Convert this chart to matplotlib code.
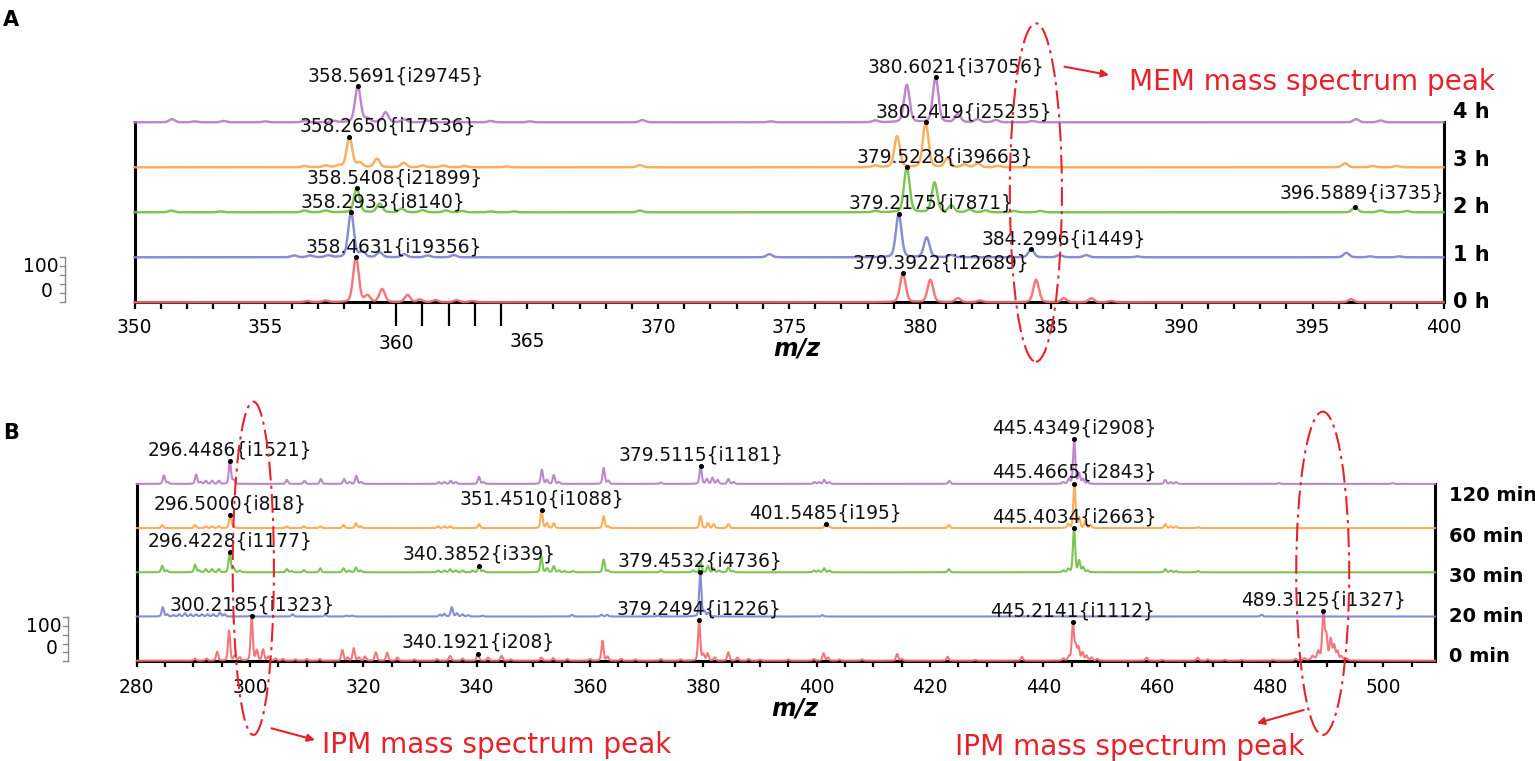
import numpy as np
import matplotlib
matplotlib.use("Agg")
import matplotlib.pyplot as plt
from matplotlib.patches import Ellipse
from matplotlib.ticker import FixedLocator, FixedFormatter
import matplotlib.transforms as mtransforms

plt.rcParams['font.family'] = ['DejaVu Sans']

# ======================= DATA =======================
# Panel A : MEM, m/z 350-400, traces 0 h ... 4 h  (peak m/z, relative intensity %)
a_names = ["0 h", "1 h", "2 h", "3 h", "4 h"]
a_peaks_0h = [(356.6, 3), (357.3, 4), (358.46, 100), (358.9, 14), (359.46, 29), (360.43, 16),
              (360.9, 6), (361.5, 5), (362.3, 5), (362.9, 3), (379.35, 64), (380.40, 50),
              (381.45, 9), (382.3, 4), (384.44, 50), (385.5, 9), (386.55, 9), (387.3, 3), (396.47, 7)]
a_peaks_1h = [(356.1, 4), (356.7, 4), (357.4, 4), (358.27, 100), (358.7, 12), (359.36, 11),
              (360.3, 7), (361.2, 4), (362.2, 5), (374.25, 7), (379.19, 96), (380.26, 44),
              (381.2, 5), (384.25, 18), (385.33, 5), (386.35, 5), (388.3, 2), (396.29, 10),
              (397.2, 2), (398.3, 2)]
a_peaks_2h = [(351.4, 4), (353.3, 2), (356.5, 4), (357.3, 4), (358.49, 53), (359.36, 19),
              (360.2, 8), (361.0, 5), (361.9, 4), (362.5, 3), (363.6, 2), (364.5, 2), (369.3, 4),
              (378.3, 3), (379.50, 100), (380.56, 66), (381.2, 15), (381.9, 6), (382.5, 4),
              (383.6, 3), (384.6, 3), (396.62, 11), (397.6, 4), (398.6, 3)]
a_peaks_3h = [(356.5, 3), (357.3, 4), (357.8, 4), (358.21, 67), (358.6, 10), (359.26, 19),
              (360.28, 10), (361.0, 4), (361.8, 4), (362.6, 3), (364.2, 2), (369.3, 5), (378.3, 4),
              (379.13, 69), (380.22, 100), (381.05, 20), (381.7, 6), (382.2, 9), (383.0, 3),
              (396.24, 9), (397.3, 3), (398.2, 3)]
a_peaks_4h = [(351.43, 7), (352.3, 2), (353.4, 3), (355.0, 2), (356.5, 3), (357.6, 3), (358.53, 80),
              (358.9, 8), (359.59, 22), (360.3, 6), (361.2, 4), (362.3, 3), (363.6, 3), (365.1, 2),
              (369.4, 5), (374.3, 2), (378.3, 4), (379.50, 83), (380.60, 100), (381.45, 18),
              (382.2, 7), (382.9, 5), (384.3, 3), (396.66, 7), (397.6, 4)]
a_labels_0h = [("358.4631{i19356}", 358.46), ("379.3922{i12689}", 379.35)]
a_labels_1h = [("358.2933{i8140}", 358.27), ("379.2175{i7871}", 379.19), ("384.2996{i1449}", 384.25)]
a_labels_2h = [("358.5408{i21899}", 358.49), ("379.5228{i39663}", 379.50), ("396.5889{i3735}", 396.62)]
a_labels_3h = [("358.2650{i17536}", 358.21), ("380.2419{i25235}", 380.22)]
a_labels_4h = [("358.5691{i29745}", 358.53), ("380.6021{i37056}", 380.60)]
a_xticks_labeled = [350, 355, 360, 365, 370, 375, 380, 385, 390, 395, 400]

# Panel B : IPM, m/z 280-509, traces 0 min ... 120 min
b_names = ["0 min", "20 min", "30 min", "60 min", "120 min"]
b_peaks_0 = [(290.3, 5), (292.3, 5), (294.2, 20), (296.3, 68), (297.3, 11), (298.2, 7), (300.3, 100),
             (301.2, 23), (302.3, 25), (303.2, 9), (304.5, 5), (305.8, 4), (308.0, 3), (310.0, 4),
             (312.3, 4), (316.3, 24), (317.2, 7), (318.3, 28), (319.2, 7), (320.3, 9), (322.2, 19),
             (324.2, 18), (326.0, 7), (329.0, 3), (333.0, 4), (335.3, 11), (337.5, 5), (340.2, 16),
             (342.0, 7), (344.4, 11), (346.0, 3), (351.4, 7), (353.5, 6), (356.0, 4), (360.0, 4),
             (362.2, 45), (363.1, 9), (365.5, 4), (368.0, 3), (372.5, 4), (376.0, 3), (379.25, 91),
             (380.0, 14), (380.75, 16), (382.0, 7), (384.4, 19), (386.0, 7), (388.0, 4), (390.0, 3),
             (395.0, 3), (399.5, 4), (401.2, 17), (402.0, 7), (404.0, 3), (408.0, 3), (414.2, 15),
             (415.0, 4), (423.1, 9), (428.0, 2), (436.2, 9), (443.5, 5), (444.5, 9), (445.2, 85),
             (445.7, 32), (446.2, 29), (446.9, 18), (447.6, 11), (448.5, 7), (449.5, 4), (458.2, 7),
             (461.0, 2), (467.2, 7), (469.0, 3), (472.0, 2), (475.0, 2), (480.5, 2), (484.5, 4),
             (486.0, 5), (487.5, 7), (488.5, 15), (489.4, 100), (489.9, 50), (490.7, 42), (491.3, 30),
             (491.9, 18), (492.6, 8), (493.5, 4), (489.6, 8, 1.6)]
b_peaks_20 = [(284.6, 21), (285.4, 5), (286.5, 3), (287.5, 5), (288.5, 7), (289.5, 5), (290.5, 5),
              (291.5, 5), (292.5, 5), (293.5, 5), (294.7, 9), (295.5, 5), (300.0, 2), (307.5, 5),
              (313.3, 3), (317.0, 2), (318.0, 2), (333.5, 4), (334.3, 6), (335.6, 21), (336.5, 7),
              (337.5, 5), (338.5, 3), (341.0, 2), (356.8, 4), (362.0, 4), (363.0, 4), (372.0, 2),
              (379.45, 100), (380.2, 11), (380.9, 8), (401.0, 3), (478.5, 4)]
b_peaks_30 = [(284.5, 15), (285.3, 4), (290.3, 17), (291.0, 4), (292.2, 7), (293.3, 7), (294.5, 7),
              (296.4, 45), (297.1, 9), (298.2, 4), (306.5, 7), (307.3, 3), (309.5, 5), (312.4, 9),
              (316.5, 9), (317.5, 4), (318.7, 11), (319.5, 4), (333.2, 4), (334.3, 4), (335.3, 7),
              (336.3, 4), (337.5, 4), (339.3, 4), (340.4, 15), (341.2, 4), (351.4, 36), (352.4, 9),
              (353.6, 14), (354.5, 4), (355.5, 3), (357.0, 3), (362.4, 29), (363.2, 4), (372.5, 4),
              (378.2, 4), (379.5, 24), (380.8, 14), (381.8, 9), (382.8, 4), (384.4, 11), (385.2, 3),
              (399.5, 4), (400.3, 4), (401.3, 9), (402.2, 4), (423.3, 7), (443.5, 4), (444.4, 7),
              (445.40, 100), (446.3, 26), (447.0, 11), (447.8, 4), (461.5, 7), (462.5, 4),
              (463.4, 3), (467.3, 3)]
b_peaks_60 = [(284.5, 7), (290.3, 7), (292.2, 4), (293.3, 4), (294.5, 4), (296.5, 29), (297.1, 4),
              (306.5, 4), (309.5, 4), (312.4, 4), (316.5, 7), (318.7, 11), (319.5, 4), (333.2, 4),
              (334.3, 4), (335.3, 4), (340.4, 9), (351.45, 40), (352.4, 11), (353.6, 11), (362.4, 27),
              (363.2, 4), (379.5, 27), (380.8, 11), (381.8, 9), (384.4, 9), (401.55, 9), (402.2, 4),
              (423.3, 7), (444.4, 9), (445.47, 100), (446.3, 23), (447.4, 16), (448.3, 7), (461.5, 9),
              (462.5, 4), (463.4, 4), (467.3, 2)]
b_peaks_120 = [(284.8, 19), (285.5, 4), (290.5, 21), (291.3, 4), (292.2, 7), (293.3, 7), (294.5, 7),
               (296.45, 52), (297.1, 9), (306.5, 9), (309.6, 7), (312.5, 11), (316.6, 11), (317.6, 4),
               (318.75, 18), (319.6, 4), (333.3, 4), (334.3, 4), (335.4, 7), (336.3, 4), (340.4, 16),
               (341.2, 4), (351.5, 32), (352.4, 9), (353.6, 20), (354.5, 4), (362.4, 36), (363.2, 7),
               (372.5, 3), (379.51, 41), (380.6, 11), (381.6, 14), (382.5, 9), (384.4, 11),
               (385.3, 4), (399.6, 4), (400.4, 4), (401.3, 9), (402.2, 4), (423.4, 7), (443.5, 4),
               (444.5, 11), (445.43, 100), (446.3, 23), (447.0, 11), (447.8, 4), (461.5, 9),
               (462.5, 4), (463.4, 4), (481.6, 2), (501.6, 2)]
b_labels_0 = [("300.2185{i1323}", 300.3), ("340.1921{i208}", 340.2), ("379.2494{i1226}", 379.25),
              ("445.2141{i1112}", 445.2), ("489.3125{i1327}", 489.4)]
b_labels_20 = [("379.4532{i4736}", 379.45)]
b_labels_30 = [("296.4228{i1177}", 296.4), ("340.3852{i339}", 340.4), ("445.4034{i2663}", 445.40)]
b_labels_60 = [("296.5000{i818}", 296.5), ("351.4510{i1088}", 351.45), ("401.5485{i195}", 401.55),
               ("445.4665{i2843}", 445.47)]
b_labels_120 = [("296.4486{i1521}", 296.45), ("379.5115{i1181}", 379.51), ("445.4349{i2908}", 445.43)]
b_xticks_labeled = [280, 300, 320, 340, 360, 380, 400, 420, 440, 460, 480, 500]

# ======================= STYLE / LAYOUT =======================
W, H = 1535, 761
colors = ["#F36C73", "#7F81D0", "#71C044", "#FAA74E", "#B97CC9"]
RED = "#E5232A"
fs_lab = 13.4

fig = plt.figure(figsize=(W / 100, H / 100), dpi=100)


def px_axes(left, right, top, bottom):
    return fig.add_axes([left / W, 1 - bottom / H, (right - left) / W, (bottom - top) / H])


def spectrum(x, peaks, sigma):
    y = np.zeros_like(x)
    for p in peaks:
        m, h = p[0], p[1]
        s = p[2] if len(p) > 2 else sigma
        d = (x - m) / s
        y += h * (0.75 * np.exp(-0.5 * d * d) + 0.25 / (1 + (d / 1.3) ** 2))
    return y


def draw_panel(ax, xlim, peaks_list, labels_list, sigma, lw, lab_mode, lab_dx, lab_dy):
    x = np.arange(xlim[0], xlim[1] + 1e-9, 0.01)
    for k, (peaks, labels) in enumerate(zip(peaks_list, labels_list)):
        base = 100 * k
        y = spectrum(x, peaks, sigma)
        ax.plot(x, base + y, color=colors[k], lw=lw, alpha=0.92, clip_on=False,
                zorder=3, solid_joinstyle='round')
        for j, (txt, mz) in enumerate(labels):
            top = base + np.interp(mz, x, y)
            ax.plot([mz], [top], 'o', ms=2.6, color='k', zorder=5, clip_on=False)
            dx, dy = lab_dx.get(txt, (lab_mode[1], lab_dy))
            ax.annotate(txt, xy=(mz, top), xytext=(dx, dy), textcoords='offset points',
                        ha=lab_mode[0], va='center', fontsize=fs_lab, color='#111111', zorder=6)
    ax.set_xlim(*xlim)
    ax.set_yticks([])
    ax.spines['top'].set_visible(False)
    for s in ('left', 'right'):
        ax.spines[s].set_bounds(0, 400)
        ax.spines[s].set_linewidth(2.2)
    ax.spines['bottom'].set_linewidth(2.2)
    ax.patch.set_alpha(0)


# ---------- Panel A ----------
A_SP = 45.0  # px per trace spacing (=100 %)
axA = px_axes(134.5, 1443.5, 20, 302.3)
axA.set_ylim(0, (302.3 - 20) / A_SP * 100)
draw_panel(axA, (350, 400), [a_peaks_0h, a_peaks_1h, a_peaks_2h, a_peaks_3h, a_peaks_4h],
           [a_labels_0h, a_labels_1h, a_labels_2h, a_labels_3h, a_labels_4h],
           0.105, 1.75, ('left', -36), {"380.6021{i37056}": (-49, 7.6), "396.5889{i3735}": (-54, 10)}, 7.6)

major = [i for i in range(350, 401) if not (360 <= i <= 364)]
minor = [360, 361, 362, 363, 364]
axA.xaxis.set_major_locator(FixedLocator(major))
axA.xaxis.set_major_formatter(FixedFormatter(
    [str(i) if (i in a_xticks_labeled and i != 365) else '' for i in major]))
axA.xaxis.set_minor_locator(FixedLocator(minor))
axA.xaxis.set_minor_formatter(FixedFormatter(['360' if i == 360 else '' for i in minor]))
axA.tick_params(axis='x', which='major', length=5, width=1.6, pad=6, labelsize=fs_lab)
axA.tick_params(axis='x', which='minor', length=17, width=1.6, pad=6, labelsize=fs_lab)
axA.annotate('365', xy=(365, 0), xycoords=('data', 'axes fraction'),
             xytext=(0, -(341.7 - 302.3) * 0.72), textcoords='offset points',
             ha='center', va='center', fontsize=fs_lab)
axA.set_xlabel('m/z', fontsize=17, fontweight='bold', fontstyle='italic')
axA.xaxis.set_label_coords(0.506, -(348.3 - 302.3) / (302.3 - 20))
axA.xaxis.label.set_va('center')
tA = mtransforms.blended_transform_factory(axA.transAxes, axA.transData)
for k, name in enumerate(a_names):
    axA.annotate(name, xy=(1, k * 47.5 / A_SP * 100), xycoords=tA, xytext=(6.8, 0),
                 textcoords='offset points', ha='left', va='center', fontsize=15,
                 fontweight='bold', annotation_clip=False)
axA.add_patch(Ellipse((384.43, (302.3 - 192.5) / A_SP * 100), width=1.99,
                      height=338.4 / A_SP * 100, fill=False, ec=RED, lw=1.5,
                      ls=(0, (9, 2.5, 1.5, 2.5)), clip_on=False, zorder=7))

# ---------- Panel B ----------
B_SP = 44.2
axB = px_axes(136.7, 1435, 400, 660.7)
axB.set_ylim(0, (660.7 - 400) / B_SP * 100)
draw_panel(axB, (280, 509.1), [b_peaks_0, b_peaks_20, b_peaks_30, b_peaks_60, b_peaks_120],
           [b_labels_0, b_labels_20, b_labels_30, b_labels_60, b_labels_120],
           0.19, 1.5, ('center', 0), {}, 8.0)
axB.set_xticks(np.arange(280, 509, 5))
axB.set_xticklabels([str(v) if v in b_xticks_labeled else '' for v in np.arange(280, 509, 5)])
axB.tick_params(axis='x', which='major', length=4.3, width=1.6, pad=8.2, labelsize=fs_lab)
axB.set_xlabel('m/z', fontsize=17, fontweight='bold', fontstyle='italic')
axB.xaxis.set_label_coords(0.507, -(708.3 - 660.7) / (660.7 - 400))
axB.xaxis.label.set_va('center')
tB = mtransforms.blended_transform_factory(axB.transAxes, axB.transData)
for k, name in enumerate(b_names):
    axB.annotate(name, xy=(1, (4 + k * 40.2) / B_SP * 100), xycoords=tB, xytext=(10, 0),
                 textcoords='offset points', ha='left', va='center', fontsize=14,
                 fontweight='bold', annotation_clip=False)
for cx, cy, w, h in [(300.58, (660.7 - 568.3), 7.27, 333.3), (489.29, (660.7 - 573.3), 9.35, 323.3)]:
    axB.add_patch(Ellipse((cx, cy / B_SP * 100), width=w, height=h / B_SP * 100, fill=False,
                          ec=RED, lw=1.5, ls=(0, (9, 2.5, 1.5, 2.5)), clip_on=False, zorder=7))

# ---------- Overlay (annotations in pixel space) ----------
ov = fig.add_axes([0, 0, 1, 1])
ov.set_xlim(0, W)
ov.set_ylim(H, 0)
ov.axis('off')
ov.patch.set_alpha(0)

ov.text(11, 20, 'A', fontsize=15, fontweight='bold', ha='center', va='center')
ov.text(11, 433, 'B', fontsize=15, fontweight='bold', ha='center', va='center')

arrow_kw = dict(arrowstyle='-|>', color=RED, lw=1.5, mutation_scale=11, shrinkA=0, shrinkB=0)
ov.annotate('', xy=(1109, 75), xytext=(1064.5, 66.7), arrowprops=arrow_kw)
ov.text(1128.8, 81.7, 'MEM mass spectrum peak', color=RED, fontsize=20.2, ha='left', va='center')
ov.annotate('', xy=(315, 740), xytext=(271.5, 728.3), arrowprops=arrow_kw)
ov.text(322, 745, 'IPM mass spectrum peak', color=RED, fontsize=20.2, ha='left', va='center')
ov.annotate('', xy=(1256.8, 723.3), xytext=(1303.7, 710), arrowprops=arrow_kw)
ov.text(955, 746.7, 'IPM mass spectrum peak', color=RED, fontsize=20.2, ha='left', va='center')

# intensity scale bars
for bx, y0, y1, t100, t0, r100, r0 in [(65, 257.3, 302.3, 266.7, 291.7, 58.3, 52.7),
                                        (68, 617.3, 661.0, 626.7, 648.3, 62.0, 58.0)]:
    ov.plot([bx, bx], [y0, y1], color='#8a8a8a', lw=1.0)
    for yy in np.linspace(y0, y1, 6):
        ov.plot([bx - 5.5, bx], [yy, yy], color='#8a8a8a', lw=1.0)
    ov.text(r100, t100, '100', fontsize=fs_lab, ha='right', va='center')
    ov.text(r0, t0, '0', fontsize=fs_lab, ha='right', va='center')

fig.savefig('out.png', dpi=100)
